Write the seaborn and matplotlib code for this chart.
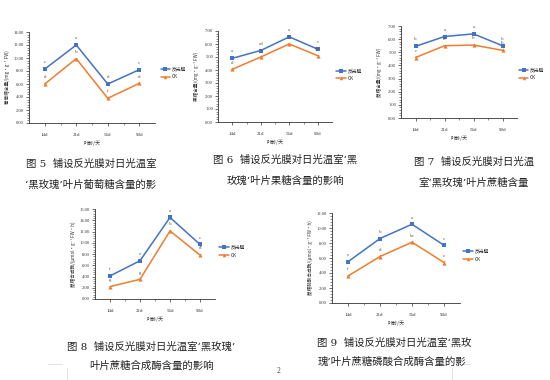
import numpy as np
import pandas as pd
import matplotlib
matplotlib.use("Agg")
import matplotlib.pyplot as plt
import seaborn as sns
from matplotlib.ticker import MultipleLocator, AutoMinorLocator, FormatStrFormatter
from matplotlib.lines import Line2D

sns.set_theme(style="white")
plt.rcParams['font.family'] = ['Noto Sans CJK SC', 'DejaVu Sans']

# ---------------- data ----------------
categories = ["14d", "21d", "56d", "90d"]
series_names = ["反光膜", "CK"]

glucose_film = [8.3, 12.0, 6.0, 8.2]
glucose_ck = [6.0, 9.9, 3.8, 6.1]
glucose_letters_film = ["c", "a", "d", "c"]
glucose_letters_ck = ["d", "b", "f", "d"]

fructose_film = [4.9, 5.5, 6.55, 5.6]
fructose_ck = [4.05, 5.0, 6.0, 5.1]
fructose_letters_film = ["a", "cd", "a", "c"]
fructose_letters_ck = ["d", "c", "b", "bc"]

sucrose_film = [5.45, 6.2, 6.4, 5.5]
sucrose_ck = [4.6, 5.5, 5.55, 5.15]
sucrose_letters_film = ["b", "a", "a", "b"]
sucrose_letters_ck = ["c", "b", "b", "b"]

ss_film = [4.1, 6.8, 14.5, 9.7]
ss_ck = [2.2, 3.5, 12.1, 7.8]
ss_letters_film = ["f", "e", "a", "c"]
ss_letters_ck = ["g", "g", "b", "d"]

sps_film = [5.5, 8.6, 10.5, 7.7]
sps_ck = [3.6, 6.2, 8.1, 5.4]
sps_letters_film = ["e", "b", "a", "c"]
sps_letters_ck = ["f", "d", "bc", "e"]

y_labels = ["葡萄糖含量/(mg·g⁻¹ FW)", "果糖含量/(mg·g⁻¹ FW)", "蔗糖含量/(mg·g⁻¹ FW)",
            "蔗糖合成酶/(μmol·g⁻¹ FW·h)", "蔗糖磷酸合成酶/(μmol·g⁻¹ FW·h)"]
x_label = "叶龄/天"

captions = [
    ["图 5  铺设反光膜对日光温室", "‘黑玫瑰’叶片葡萄糖含量的影"],
    ["图 6  铺设反光膜对日光温室‘黑", "玫瑰’叶片果糖含量的影响"],
    ["图 7  铺设反光膜对日光温", "室‘黑玫瑰’叶片蔗糖含量"],
    ["图 8  铺设反光膜对日光温室‘黑玫瑰’", "叶片蔗糖合成酶含量的影响"],
    ["图 9  铺设反光膜对日光温室‘黑玫", "瑰’叶片蔗糖磷酸合成酶含量的影"],
]
page_number = "2"

# ---------------- layout / style ----------------
W, H = 550, 380
fig = plt.figure(figsize=(5.5, 3.8), dpi=100)
fig.patch.set_facecolor("white")

BLUE = "#4472C4"
ORANGE = "#ED7D31"
palette = {"反光膜": BLUE, "CK": ORANGE}
markers = {"反光膜": "s", "CK": "^"}

panels = [
    dict(box=(29, 32, 155, 123), ymax=14, step=2, film=glucose_film, ck=glucose_ck,
         lf=glucose_letters_film, lc=glucose_letters_ck, leg=(1.03, 0.55)),
    dict(box=(218, 31, 332, 122), ymax=7, step=1, film=fructose_film, ck=fructose_ck,
         lf=fructose_letters_film, lc=fructose_letters_ck, leg=(1.02, 0.52)),
    dict(box=(401, 26, 517, 118), ymax=7, step=1, film=sucrose_film, ck=sucrose_ck,
         lf=sucrose_letters_film, lc=sucrose_letters_ck, leg=(1.0, 0.48)),
    dict(box=(95, 209, 215, 299), ymax=16, step=2, film=ss_film, ck=ss_ck,
         lf=ss_letters_film, lc=ss_letters_ck, leg=(1.02, 0.53)),
    dict(box=(332, 213, 460, 303), ymax=12, step=2, film=sps_film, ck=sps_ck,
         lf=sps_letters_film, lc=sps_letters_ck, leg=(1.01, 0.53)),
]

cap_pos = [
    [(91, 164), (91, 185)],
    [(285, 160), (285, 181)],
    [(474, 162), (474, 183)],
    [(151, 347), (151, 366)],
    [(394, 343), (392, 362)],
]

serif = ["Liberation Serif", "DejaVu Serif"]
cap_family = ["DejaVu Serif", "Noto Sans CJK SC"]

for i, p in enumerate(panels):
    x0, y0, x1, y1 = p["box"]
    ax = fig.add_axes([x0 / W, 1 - y1 / H, (x1 - x0) / W, (y1 - y0) / H])
    pos = np.arange(len(categories))
    df = pd.DataFrame({
        "pos": np.concatenate([pos, pos]),
        "value": p["film"] + p["ck"],
        "组": [series_names[0]] * len(pos) + [series_names[1]] * len(pos),
    })
    sns.lineplot(data=df, x="pos", y="value", hue="组", style="组", markers=markers,
                 dashes=False, palette=palette, ax=ax, linewidth=1.1, markersize=3,
                 markeredgewidth=0, legend=False, errorbar=None)
    # tiny error bars
    ax.errorbar(pos, p["film"], yerr=p["ymax"] * 0.012, fmt="none", ecolor=BLUE,
                elinewidth=0.5, capsize=1, capthick=0.4)
    ax.errorbar(pos, p["ck"], yerr=p["ymax"] * 0.012, fmt="none", ecolor=ORANGE,
                elinewidth=0.5, capsize=1, capthick=0.4)
    off = p["ymax"] * 0.075
    for xi, v, t in zip(pos, p["film"], p["lf"]):
        ax.text(xi, v + off, t, ha="center", va="center", fontsize=3.6,
                color="#555555", family=serif)
    for xi, v, t in zip(pos, p["ck"], p["lc"]):
        ax.text(xi, v + off, t, ha="center", va="center", fontsize=3.6,
                color="#555555", family=serif)

    ax.set_xlim(-0.5, len(categories) - 0.5)
    ax.set_ylim(0, p["ymax"])
    ax.set_xticks(pos)
    ax.set_xticklabels(categories, fontsize=3.6, family=serif, color="#333333")
    ax.set_xticks(pos[:-1] + 0.5, minor=True)
    ax.yaxis.set_major_locator(MultipleLocator(p["step"]))
    ax.yaxis.set_minor_locator(AutoMinorLocator(5))
    ax.yaxis.set_major_formatter(FormatStrFormatter("%.2f"))
    for lab in ax.get_yticklabels():
        lab.set_fontsize(3.3)
        lab.set_family(serif)
        lab.set_color("#333333")
    ax.tick_params(axis="both", which="major", length=2, width=0.5, pad=1.5,
                   direction="out", color="#333333", left=True, bottom=True)
    ax.tick_params(axis="both", which="minor", length=1.2, width=0.4,
                   direction="out", color="#333333", left=True, bottom=True)
    ax.tick_params(axis="x", which="major", pad=5)
    for s in ["top", "right"]:
        ax.spines[s].set_visible(False)
    for s in ["left", "bottom"]:
        ax.spines[s].set_linewidth(0.6)
        ax.spines[s].set_color("#333333")
    ax.set_facecolor("white")

    ax.set_ylabel(y_labels[i], fontsize=3.3, color="#333333")
    ax.yaxis.set_label_coords(-19 / (x1 - x0), 0.5)
    ax.set_xlabel(x_label, fontsize=3.6, color="#333333")
    ax.xaxis.set_label_coords(0.5, -18 / (y1 - y0))

    handles = [
        Line2D([0], [0], color=BLUE, marker="s", markersize=2.5, linewidth=1.1,
               markeredgewidth=0, label=series_names[0]),
        Line2D([0], [0], color=ORANGE, marker="^", markersize=2.5, linewidth=1.1,
               markeredgewidth=0, label=series_names[1]),
    ]
    ax.legend(handles=handles, loc="center left", bbox_to_anchor=p["leg"],
              frameon=False, fontsize=3.4, handlelength=2.0, handletextpad=0.4,
              labelspacing=0.6, borderaxespad=0)

    for (cx, cy), line in zip(cap_pos[i], captions[i]):
        fig.text(cx / W, 1 - cy / H, line, ha="center", va="center", fontsize=7.5,
                 color="#222222", family=cap_family)

fig.text(279 / W, 1 - 371 / H, page_number, ha="center", va="center", fontsize=5.5,
         color="#444444", family=serif)

# page crop marks
mark_color = "#dddddd"
for (xa, xb, ya, yb) in [(48, 62, 364, 364), (456, 470, 364, 364),
                         (67, 67, 368, 380), (452, 452, 368, 380)]:
    fig.add_artist(Line2D([xa / W, xb / W], [1 - ya / H, 1 - yb / H],
                          color=mark_color, linewidth=0.6, transform=fig.transFigure))

fig.savefig("out.png", dpi=100, facecolor="white")
